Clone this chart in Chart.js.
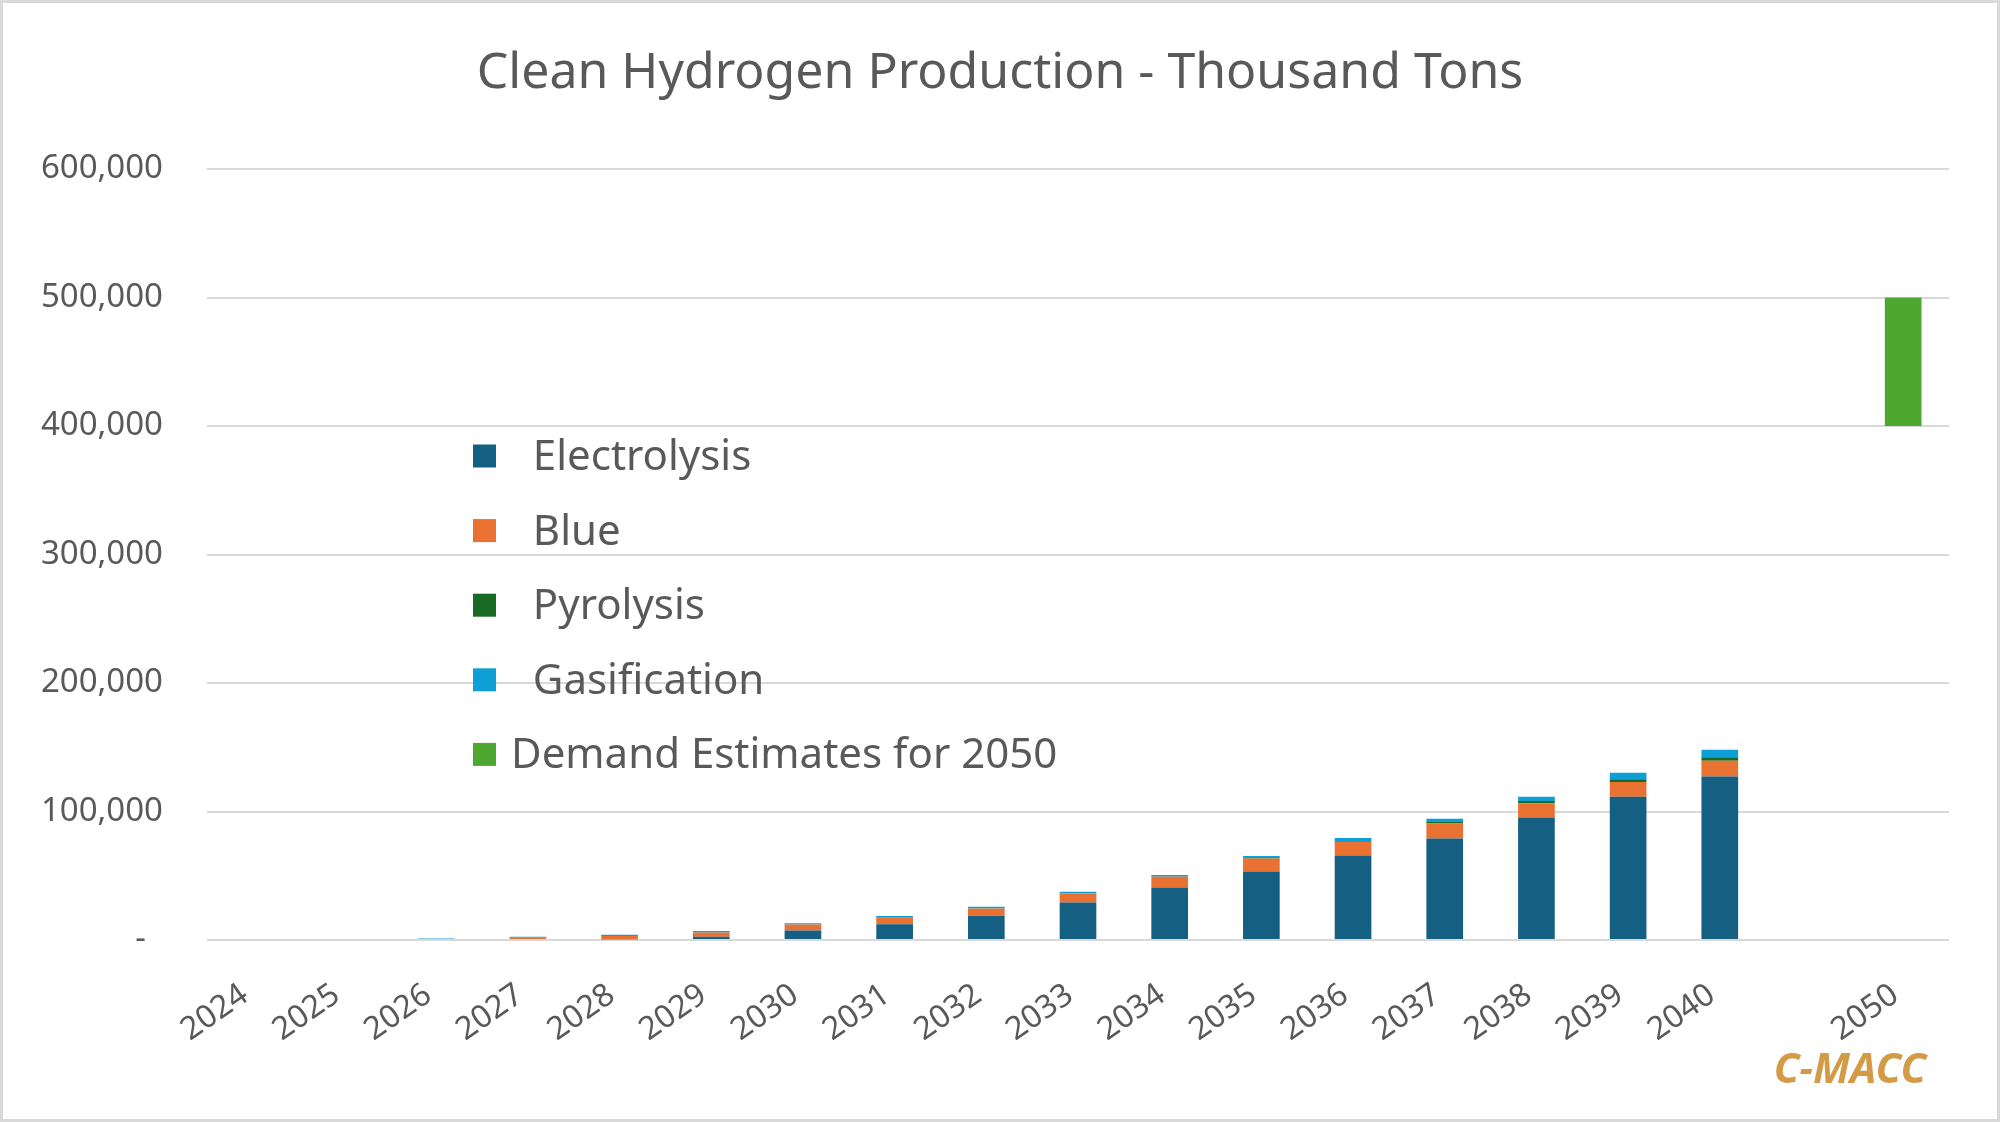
<!DOCTYPE html>
<html>
<head>
<meta charset="utf-8">
<script src="https://cdn.jsdelivr.net/npm/chart.js@4.4.1/dist/chart.umd.min.js"></script>
<style>
  html, body { margin: 0; padding: 0; background: #ffffff; }
  #chart { display: block; }
</style>
</head>
<body>
<canvas id="chart" width="2000" height="1122"></canvas>
<script>
// years on the x axis, blank slot between 2040 and 2050
const years = ["2024", "2025", "2026", "2027", "2028", "2029", "2030", "2031", "2032",
  "2033", "2034", "2035", "2036", "2037", "2038", "2039", "2040", "", "2050"];

// thousand tons
const electrolysis = [0, 0, 0, 0, 500, 2600, 7300, 12300, 18800, 29200, 40900, 53400,
  65800, 79000, 95300, 111500, 127300, null, null];
const blue = [0, 0, 0, 1800, 2600, 3300, 4800, 5000, 5700, 7000, 8300, 10100,
  10700, 11600, 11200, 11500, 12100, null, null];
const pyrolysis = [0, 0, 0, 0, 0, 0, 0, 0, 0, 0, 200, 300,
  600, 1200, 1700, 2100, 2900, null, null];
const gasification = [0, 0, 1200, 800, 1000, 1100, 1000, 1300, 1300, 1300, 1200, 1600,
  2300, 2500, 3300, 5000, 5700, null, null];
// 2050 demand range: 400,000 - 500,000
const demandBase = [null, null, null, null, null, null, null, null, null, null, null, null,
  null, null, null, null, null, null, 400000];
const demand = [null, null, null, null, null, null, null, null, null, null, null, null,
  null, null, null, null, null, null, 100000];

const yTicks = [0, 100000, 200000, 300000, 400000, 500000, 600000];

const textColor = "#595959";
const fontFamily = "'Noto Sans', 'Open Sans', sans-serif";

// white page, grey frame, inline legend and the C-MACC mark
const decorPlugin = {
  id: "decor",
  beforeDraw(chart) {
    const ctx = chart.ctx;
    ctx.save();
    ctx.fillStyle = "#ffffff";
    ctx.fillRect(0, 0, chart.width, chart.height);
    ctx.restore();
  },
  afterDraw(chart) {
    const ctx = chart.ctx;
    ctx.save();
    ctx.strokeStyle = "#d9d9d9";
    ctx.lineWidth = 3;
    ctx.strokeRect(1.5, 1.5, chart.width - 3, chart.height - 3);

    // legend
    const boxLeft = 473, boxSize = 23, firstRow = 456, rowGap = 74.6;
    ctx.font = "42px " + fontFamily;
    ctx.textBaseline = "middle";
    ctx.textAlign = "left";
    let row = 0;
    chart.data.datasets.forEach(ds => {
      if (!ds.label) return;
      const cy = firstRow + row * rowGap;
      ctx.fillStyle = ds.backgroundColor;
      ctx.fillRect(boxLeft, cy - boxSize / 2, boxSize, boxSize);
      ctx.fillStyle = textColor;
      ctx.fillText(ds.label, boxLeft + boxSize + 15, cy + 2);
      row++;
    });

    // watermark
    ctx.font = "italic bold 42px " + fontFamily;
    ctx.fillStyle = "#D49B47";
    ctx.textAlign = "center";
    ctx.fillText("C-MACC", 1850, 1071);
    ctx.restore();
  }
};

new Chart(document.getElementById("chart").getContext("2d"), {
  type: "bar",
  data: {
    labels: years,
    datasets: [
      { label: "  Electrolysis", data: electrolysis, backgroundColor: "#156082" },
      { label: "  Blue", data: blue, backgroundColor: "#E97132" },
      { label: "  Pyrolysis", data: pyrolysis, backgroundColor: "#196B24" },
      { label: "  Gasification", data: gasification, backgroundColor: "#0F9ED5" },
      { label: "", data: demandBase, backgroundColor: "rgba(0,0,0,0)" },
      { label: "Demand Estimates for 2050", data: demand, backgroundColor: "#4EA72E" }
    ]
  },
  options: {
    responsive: false,
    animation: false,
    devicePixelRatio: 1,
    layout: { padding: 0 },
    datasets: {
      bar: { barPercentage: 0.4, categoryPercentage: 1.0, borderWidth: 0 }
    },
    plugins: {
      legend: { display: false },
      tooltip: { enabled: false },
      title: {
        display: true,
        text: "Clean Hydrogen Production - Thousand Tons",
        color: textColor,
        font: { family: fontFamily, size: 50, weight: "normal" },
        padding: { top: 44, bottom: 65 }
      }
    },
    scales: {
      x: {
        stacked: true,
        grid: { display: false, drawTicks: false },
        border: { display: false },
        ticks: {
          autoSkip: false,
          minRotation: 35,
          maxRotation: 35,
          padding: 36,
          labelOffset: -8,
          color: textColor,
          font: { family: fontFamily, size: 32 }
        },
        afterFit(scale) { scale.height = 182; }
      },
      y: {
        stacked: true,
        min: 0,
        max: 600000,
        afterBuildTicks(scale) { scale.ticks = yTicks.map(v => ({ value: v })); },
        grid: { color: "#d9d9d9", lineWidth: 2, drawTicks: false },
        border: { display: false },
        ticks: {
          padding: 44,
          color: textColor,
          font: { family: fontFamily, size: 33 },
          callback: value => value === 0 ? "-  " : value.toLocaleString("en-US")
        },
        afterFit(scale) { scale.width = 207; }
      },
      // empty right margin so the title stays centred on the page
      yRight: {
        position: "right",
        grid: { display: false, drawTicks: false },
        border: { display: false },
        ticks: { display: false },
        afterFit(scale) { scale.width = 51; }
      }
    }
  },
  plugins: [decorPlugin]
});
</script>
</body>
</html>
